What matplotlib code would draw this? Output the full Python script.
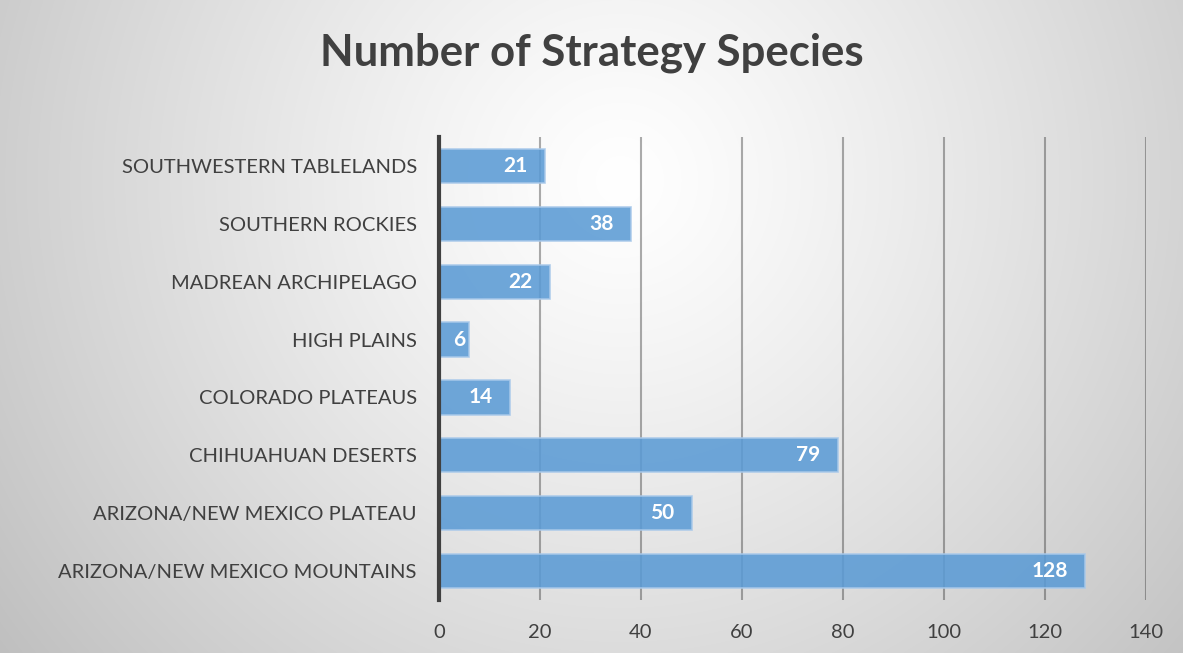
import numpy as np
import matplotlib
matplotlib.use("Agg")
import matplotlib.pyplot as plt

categories = ["SOUTHWESTERN TABLELANDS", "SOUTHERN ROCKIES", "MADREAN ARCHIPELAGO",
              "HIGH PLAINS", "COLORADO PLATEAUS", "CHIHUAHUAN DESERTS",
              "ARIZONA/NEW MEXICO PLATEAU", "ARIZONA/NEW MEXICO MOUNTAINS"]
values = [21, 38, 22, 6, 14, 79, 50, 128]
xticks = [0, 20, 40, 60, 80, 100, 120, 140]
title = "Number of Strategy Species"

W, H = 1183, 653
fig = plt.figure(figsize=(W / 100, H / 100), dpi=100)

# radial gradient background
bg = fig.add_axes([0, 0, 1, 1], zorder=0)
yy, xx = np.mgrid[0:H, 0:W]
cx, cy = 620, 180
r = np.sqrt((xx - cx) ** 2 + (yy - cy) ** 2)
r = r / r.max()
g = 1.0 - 0.25 * np.clip(r, 0, 1) ** 1.2
img = np.dstack([g, g, g])
bg.imshow(img, aspect="auto", extent=[0, 1, 0, 1], interpolation="bilinear")
bg.set_axis_off()

ax = fig.add_axes([439 / W, 1 - 600 / H, (1146 - 439) / W, (600 - 137) / H], zorder=1)
ax.patch.set_alpha(0)
font = "Lato"

y = np.arange(len(categories))[::-1]
ax.barh(y, values, height=0.59, color="#5b9bd5", alpha=0.88,
        edgecolor="#a9c9ea", linewidth=1.2, zorder=3)
for yi, v in zip(y, values):
    off = -12.5 if v >= 10 else -2.5
    ax.annotate(str(v), xy=(v, yi), xytext=(off, 0), textcoords="offset points",
                ha="right", va="center", color="white",
                fontsize=15, fontweight="bold", family=font, zorder=4)

ax.set_xlim(0, 140)
ax.set_ylim(-0.5, len(categories) - 0.5)
ax.set_xticks(xticks)
ax.set_xticklabels([str(t) for t in xticks], fontsize=14.5, color="#404040", family=font)
ax.set_yticks(y)
ax.set_yticklabels(categories, fontsize=14.5, color="#404040", family=font)
ax.tick_params(axis="x", length=0, pad=17)
ax.tick_params(axis="y", length=0, pad=16)
ax.grid(axis="x", color="#303030", alpha=0.4, linewidth=1.5, zorder=1)
ax.set_axisbelow(True)
for s in ["top", "right", "bottom"]:
    ax.spines[s].set_visible(False)
ax.spines["left"].set_color("#404040")
ax.spines["left"].set_linewidth(3)
ax.spines["left"].set_zorder(5)

fig.text(592 / W, 1 - 53 / H, title, ha="center", va="center", fontsize=31.5,
         fontweight="bold", color="#404040", family=font)

fig.savefig("out.png", dpi=100)
